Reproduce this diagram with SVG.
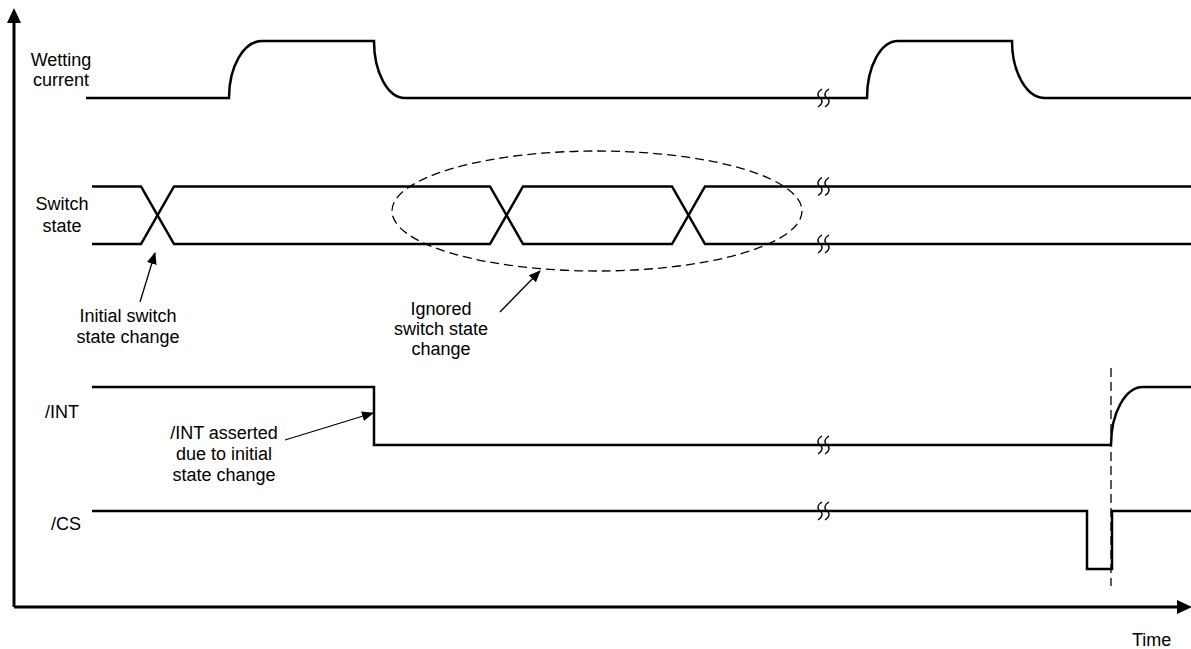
<svg xmlns="http://www.w3.org/2000/svg" width="1191" height="649" viewBox="0 0 1191 649">
<style>
.t{font-family:"Liberation Sans",Arial,sans-serif;font-size:18px;fill:#000}
.m{text-anchor:middle}
.w{fill:none;stroke:#000;stroke-width:2.5}
.ax{fill:none;stroke:#000;stroke-width:3}
.brk{fill:none;stroke:#000;stroke-width:1.4}
.dash{fill:none;stroke:#000;stroke-width:1.3;stroke-dasharray:9,5}
.ann{fill:none;stroke:#000;stroke-width:1.3}
</style>
<defs>
<marker id="ah" markerWidth="12" markerHeight="10" refX="11" refY="5" orient="auto" markerUnits="userSpaceOnUse">
<path d="M0,0 L12,5 L0,10 Z" fill="#000"/>
</marker>
<path id="sq" d="M2,-9 C-3,-6 -3,-2 0,0 C3,2 3,6 -2,9"/>
</defs>

<g id="axes">
<path class="ax" d="M14,607 V20 M14,607 H1180"/>
<path d="M14,8 L7,23 L21,23 Z" fill="#000"/>
<path d="M1192,607 L1177,600 L1177,614 Z" fill="#000"/>
</g>

<g id="labels">
<text class="t m" x="61" y="66">Wetting</text>
<text class="t m" x="61" y="86">current</text>
<text class="t m" x="62" y="210">Switch</text>
<text class="t m" x="62" y="232">state</text>
<text class="t" x="45" y="418">/INT</text>
<text class="t" x="51" y="530">/CS</text>
<text class="t" x="1132" y="646">Time</text>
</g>

<g id="wetting">
<path class="w" d="M86,98 H229 A33,57 0 0 1 262,41 H374 A31,57 0 0 0 405,98 H867 A31,57 0 0 1 898,41 H1012 A33,57 0 0 0 1045,98 H1191"/>
</g>

<g id="switch">
<path class="w" d="M92,186.5 H141 L174,244 H490 L523,186.5 H672 L705,244 H1191"/>
<path class="w" d="M92,244 H141 L174,186.5 H490 L523,244 H672 L705,186.5 H1191"/>
</g>

<g id="int">
<path class="w" d="M92,387 H374 V445 H1111 A32,58 0 0 1 1143,387 H1191"/>
</g>

<g id="cs">
<path class="w" d="M92,511 H1087 V569 H1112 V511 H1191"/>
</g>

<g id="breaks">
<use href="#sq" class="brk" x="820" y="98"/><use href="#sq" class="brk" x="827" y="98"/>
<use href="#sq" class="brk" x="820" y="186.5"/><use href="#sq" class="brk" x="827" y="186.5"/>
<use href="#sq" class="brk" x="820" y="244"/><use href="#sq" class="brk" x="827" y="244"/>
<use href="#sq" class="brk" x="820" y="445"/><use href="#sq" class="brk" x="827" y="445"/>
<use href="#sq" class="brk" x="820" y="511"/><use href="#sq" class="brk" x="827" y="511"/>
</g>

<g id="ignored-region">
<ellipse class="dash" cx="597" cy="211" rx="205" ry="60"/>
</g>

<g id="sync-line">
<path class="dash" d="M1111,368 V586"/>
</g>

<g id="connectors">
<path class="ann" d="M140,302 L155,253" marker-end="url(#ah)"/>
<path class="ann" d="M500,312 L540,271" marker-end="url(#ah)"/>
<path class="ann" d="M285,440 L373,413" marker-end="url(#ah)"/>
</g>

<g id="annotations">
<text class="t m" x="128" y="322">Initial switch</text>
<text class="t m" x="128" y="343">state change</text>
<text class="t m" x="441" y="315">Ignored</text>
<text class="t m" x="441" y="335">switch state</text>
<text class="t m" x="441" y="355">change</text>
<text class="t m" x="224" y="439">/INT asserted</text>
<text class="t m" x="224" y="460">due to initial</text>
<text class="t m" x="224" y="481">state change</text>
</g>
</svg>
